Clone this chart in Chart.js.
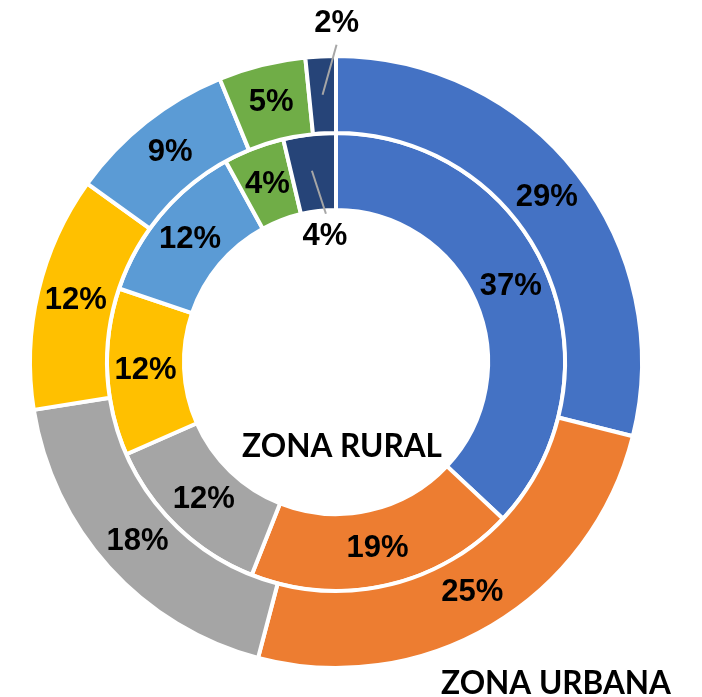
<!DOCTYPE html>
<html>
<head>
<meta charset="utf-8">
<script src="https://cdn.jsdelivr.net/npm/chart.js@4"></script>
<style>
    html, body { margin: 0; padding: 0; background: #fff; }
    #wrap { width: 702px; height: 697px; position: relative; }
</style>
</head>
<body>
<div id="wrap"><canvas id="donut" width="702" height="697"></canvas></div>
<script>
// Categorias (sin nombre en la imagen, solo colores)
const categorias = ['A', 'B', 'C', 'D', 'E', 'F', 'G'];
const colores = ['#4472C4', '#ED7D31', '#A5A5A5', '#FFC000', '#5B9BD5', '#70AD47', '#264478'];

// Anillo exterior = zona urbana, anillo interior = zona rural (porcentajes)
const zonaUrbana = [28.9, 25.2, 18.4, 12.4, 8.9, 4.6, 1.6];
const zonaRural = [37, 19, 12.4, 11.8, 11.8, 4.3, 3.7];

const tituloRural = 'ZONA RURAL';
const tituloUrbana = 'ZONA URBANA';

// Etiquetas fuera del arco para las porciones pequenas (desplazamientos desde el centro del arco)
const etiquetasFuera = [
    { ds: 0, idx: 6, line: [0, 0, 14, -50], text: [14, -71] },
    { ds: 1, idx: 6, line: [-2, -2, 12, 41], text: [11, 64] }
];

const etiquetasPlugin = {
    id: 'etiquetas',
    afterDatasetsDraw(chart) {
        const ctx = chart.ctx;
        ctx.save();
        ctx.font = 'bold 31px "Liberation Sans", Arial, sans-serif';
        ctx.fillStyle = '#000';
        ctx.textAlign = 'center';
        ctx.textBaseline = 'middle';

        chart.data.datasets.forEach((ds, di) => {
            const meta = chart.getDatasetMeta(di);
            meta.data.forEach((arc, i) => {
                const p = arc.getCenterPoint();
                const txt = Math.round(ds.data[i]) + '%';
                const fuera = etiquetasFuera.find(e => e.ds === di && e.idx === i);
                if (fuera) {
                    ctx.strokeStyle = '#A6A6A6';
                    ctx.lineWidth = 2;
                    ctx.beginPath();
                    ctx.moveTo(p.x + fuera.line[0], p.y + fuera.line[1]);
                    ctx.lineTo(p.x + fuera.line[2], p.y + fuera.line[3]);
                    ctx.stroke();
                    ctx.fillText(txt, p.x + fuera.text[0], p.y + fuera.text[1]);
                } else {
                    ctx.fillText(txt, p.x, p.y);
                }
            });
        });

        // Titulos de cada anillo
        ctx.font = 'bold 31.5px Lato, "Open Sans", sans-serif';
        ctx.fillText(tituloRural, 342, 447);
        ctx.fillText(tituloUrbana, 556, 684);
        ctx.restore();
    }
};

const ctx = document.getElementById('donut');
new Chart(ctx, {
    type: 'doughnut',
    data: {
        labels: categorias,
        datasets: [
            {
                label: tituloUrbana,
                data: zonaUrbana,
                backgroundColor: colores,
                borderColor: '#fff',
                borderWidth: 4
            },
            {
                label: tituloRural,
                data: zonaRural,
                backgroundColor: colores,
                borderColor: '#fff',
                borderWidth: 4
            }
        ]
    },
    options: {
        responsive: false,
        animation: false,
        cutout: '49.7%',
        layout: {
            padding: { left: 28, right: 58, top: 54, bottom: 27 }
        },
        plugins: {
            legend: { display: false },
            tooltip: { enabled: false }
        }
    },
    plugins: [etiquetasPlugin]
});
</script>
</body>
</html>
